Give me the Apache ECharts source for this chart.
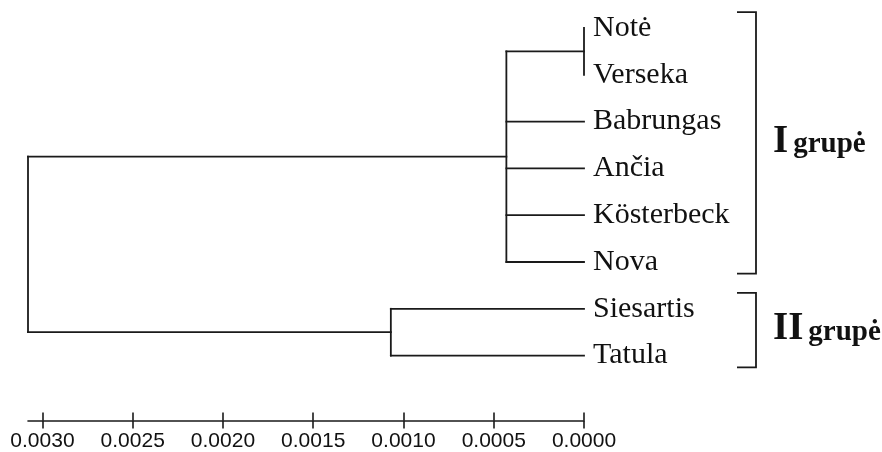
<!DOCTYPE html>
<html>
<head>
<meta charset="utf-8">
<script src="https://cdn.jsdelivr.net/npm/echarts@6/dist/echarts.min.js"></script>
<style>html,body{margin:0;padding:0;background:#fff}#c{width:882px;height:452px}</style>
</head>
<body>
<div id="c"></div>
<script>
// ---- data ----
const leafNames = ['Notė', 'Verseka', 'Babrungas', 'Ančia', 'Kösterbeck', 'Nova', 'Siesartis', 'Tatula'];
const nodeIds = ['A', 'B', 'C', 'R'];
const nodeHeights = [0.0, 0.00043, 0.00107, 0.00308];
const nodeChildren = [
  ['Notė', 'Verseka'],
  ['A', 'Babrungas', 'Ančia', 'Kösterbeck', 'Nova'],
  ['Siesartis', 'Tatula'],
  ['B', 'C']
];
const tickValues = [0, 0.0005, 0.0010, 0.0015, 0.0020, 0.0025, 0.0030];
const groupRoman = ['I', 'II'];
const groupWord = ['grupė', 'grupė'];
const groupFirstLeaf = ['Notė', 'Siesartis'];
const groupLastLeaf = ['Nova', 'Tatula'];

// ---- build dendrogram segments ----
const pos = {};
leafNames.forEach((n, i) => { pos[n] = { x: 0, y: i }; });
const segments = [];
nodeIds.forEach((id, k) => {
  const ch = nodeChildren[k];
  const h = nodeHeights[k];
  const y1 = pos[ch[0]].y, y2 = pos[ch[ch.length - 1]].y;
  segments.push([h, y1, h, y2]);
  ch.forEach(c => {
    if (pos[c].x !== h) segments.push([pos[c].x, pos[c].y, h, pos[c].y]);
  });
  pos[id] = { x: h, y: (y1 + y2) / 2 };
});
const rootHeight = nodeHeights[nodeHeights.length - 1];

const chart = echarts.init(document.getElementById('c'), null, { renderer: 'canvas' });
const LINE = '#1a1a1a';
const axisCommon = {
  type: 'value', inverse: true, min: 0, max: rootHeight,
  position: 'bottom', offset: 65, splitLine: { show: false }
};
chart.setOption({
  animation: false,
  backgroundColor: '#ffffff',
  grid: { left: 28, right: 298, top: 28, bottom: 96.4, containLabel: false, outerBoundsMode: 'none' },
  xAxis: [
    Object.assign({}, axisCommon, {
      axisLine: { show: true, onZero: false, lineStyle: { color: LINE, width: 1.6 } },
      axisTick: { show: true, inside: false, length: 8, customValues: tickValues, lineStyle: { color: LINE, width: 1.6 } },
      axisLabel: {
        show: true, customValues: tickValues, margin: 10.5,
        formatter: v => Number(v).toFixed(4),
        fontFamily: '"Liberation Sans", Arial, sans-serif', fontSize: 21, color: '#111'
      }
    }),
    Object.assign({}, axisCommon, {
      axisLine: { show: false, onZero: false },
      axisTick: { show: true, inside: true, length: 8, customValues: tickValues, lineStyle: { color: LINE, width: 1.6 } },
      axisLabel: { show: false }
    })
  ],
  yAxis: {
    type: 'value', inverse: true, min: 0, max: leafNames.length - 1,
    position: 'right',
    axisLine: { show: false, onZero: false },
    axisTick: { show: false },
    splitLine: { show: false },
    axisLabel: {
      show: true, margin: 9, customValues: leafNames.map((n, i) => i),
      formatter: v => leafNames[Math.round(v)],
      fontFamily: '"Liberation Serif", "Times New Roman", serif', fontSize: 30, color: '#111'
    }
  },
  series: [{
    type: 'custom',
    clip: false,
    xAxisIndex: 0,
    data: segments,
    encode: { x: [0, 2], y: [1, 3] },
    renderItem: (params, api) => {
      const p1 = api.coord([api.value(0), api.value(1)]);
      const p2 = api.coord([api.value(2), api.value(3)]);
      return {
        type: 'line',
        shape: { x1: p1[0], y1: p1[1], x2: p2[0], y2: p2[1] },
        style: { stroke: LINE, lineWidth: 1.8, lineCap: 'square' }
      };
    }
  }]
});

// ---- group brackets and labels (annotations) ----
const ctx = document.createElement('canvas').getContext('2d');
const romanFont = 'bold 39px "Liberation Serif", "Times New Roman", serif';
const wordFont = 'bold 29px "Liberation Serif", "Times New Roman", serif';
const graphics = [];
groupRoman.forEach((g, k) => {
  const a = pos[groupFirstLeaf[k]].y, b = pos[groupLastLeaf[k]].y;
  const top = chart.convertToPixel({ xAxisIndex: 0, yAxisIndex: 0 }, [0, a - 0.34]);
  const bot = chart.convertToPixel({ xAxisIndex: 0, yAxisIndex: 0 }, [0, b + 0.25]);
  const xl = top[0] + 153, xr = top[0] + 172;
  graphics.push({
    type: 'polyline',
    shape: { points: [[xl, top[1]], [xr, top[1]], [xr, bot[1]], [xl, bot[1]]] },
    style: { stroke: LINE, lineWidth: 1.8, fill: null }
  });
  const mid = (top[1] + bot[1]) / 2;
  const baseline = mid + 12;
  const tx = xr + 17;
  ctx.font = romanFont;
  const wI = ctx.measureText(g).width;
  graphics.push({
    type: 'text', x: tx, y: baseline - 13.2,
    style: { text: g, font: romanFont, fill: '#111', verticalAlign: 'middle', align: 'left' }
  });
  graphics.push({
    type: 'text', x: tx + wI + 5, y: baseline - 9.9,
    style: { text: groupWord[k], font: wordFont, fill: '#111', verticalAlign: 'middle', align: 'left' }
  });
});
chart.setOption({ graphic: graphics });
</script>
</body>
</html>
